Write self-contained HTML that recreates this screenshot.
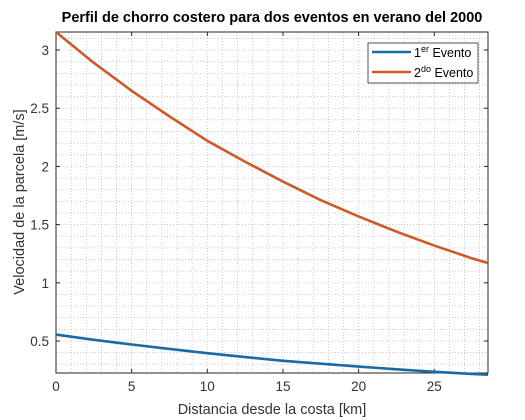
<!DOCTYPE html>
<html><head><meta charset="utf-8"><style>
html,body{margin:0;padding:0;background:#fff;}
svg{display:block;font-family:"Liberation Sans",Arial,sans-serif;}
</style></head><body>
<svg id="chart" width="525" height="420" viewBox="0 0 525 420">
<rect x="0" y="0" width="525" height="420" fill="#ffffff"/>
<g id="plot"></g>
</svg>
<script>
const xKm = [0, 2.5, 5, 7.5, 10, 12.5, 15, 17.5, 20, 22.5, 25, 27.5, 28.55];
const evento1 = [0.555, 0.51, 0.47, 0.432, 0.395, 0.362, 0.33, 0.305, 0.28, 0.257, 0.235, 0.217, 0.21];
const evento2 = [3.155, 2.89, 2.65, 2.43, 2.22, 2.04, 1.87, 1.71, 1.57, 1.44, 1.32, 1.21, 1.17];
const xTicks = [0, 5, 10, 15, 20, 25];
const yTicks = [0.5, 1, 1.5, 2, 2.5, 3];

const L=56,R=488,T=32,B=373;
const xMin=0,xMax=28.55,yMin=0.225,yMax=3.155;
const sx=v=>L+(v-xMin)/(xMax-xMin)*(R-L);
const sy=v=>B-(v-yMin)/(yMax-yMin)*(B-T);
const NS="http://www.w3.org/2000/svg";
const g=document.getElementById('plot');
function mk(tag,attrs,parent){const e=document.createElementNS(NS,tag);for(const k in attrs)e.setAttribute(k,attrs[k]);(parent||g).appendChild(e);return e;}

const grid=mk('g',{});


for(let v=1;v<xMax;v+=1){const x=sx(v);mk('line',{x1:x,x2:x,y1:T,y2:B,stroke:'#b8b8b8','stroke-width':0.7,'stroke-dasharray':'1,2'},grid);}
for(let v=0.3;v<yMax;v+=0.1){const y=sy(v);mk('line',{x1:L,x2:R,y1:y,y2:y,stroke:'#b8b8b8','stroke-width':0.7,'stroke-dasharray':'1,2'},grid);}

const ax=mk('rect',{x:L,y:T,width:R-L,height:B-T,fill:'none',stroke:'#262626','stroke-width':1});



xTicks.forEach(v=>{const x=sx(v);
 mk('line',{x1:x,x2:x,y1:B,y2:B-4,stroke:'#262626'});mk('line',{x1:x,x2:x,y1:T,y2:T+4,stroke:'#262626'});
 const t=mk('text',{x:x,y:B+18,'text-anchor':'middle','font-size':13.5,fill:'#333'});t.textContent=v;
 
 });
yTicks.forEach(v=>{const y=sy(v);
 mk('line',{x1:L,x2:L+4,y1:y,y2:y,stroke:'#262626'});mk('line',{x1:R,x2:R-4,y1:y,y2:y,stroke:'#262626'});
 const t=mk('text',{x:L-7,y:y+5,'text-anchor':'end','font-size':13.5,fill:'#333'});t.textContent=v;
 
 });

function series(vals,color,name){
 const d=xKm.map((x,i)=>(i?'L':'M')+sx(x).toFixed(2)+','+sy(vals[i]).toFixed(2)).join(' ');
 const p=mk('path',{d:d,fill:'none',stroke:color,'stroke-width':2.6,'stroke-linejoin':'round'});
 
 
}
series(evento1,'#1a6aa6','line-evento-1');
series(evento2,'#cf5a26','line-evento-2');

const tt=mk('text',{x:272,y:22,'text-anchor':'middle','font-size':14.5,'font-weight':'bold',fill:'#000'});
tt.textContent='Perfil de chorro costero para dos eventos en verano del 2000';


const xt=mk('text',{x:272,y:414,'text-anchor':'middle','font-size':14.5,fill:'#333'});
xt.textContent='Distancia desde la costa [km]';


const yt=mk('text',{x:0,y:0,'text-anchor':'middle','font-size':14.5,fill:'#333',transform:'translate(24,202) rotate(-90)'});
yt.textContent='Velocidad de la parcela [m/s]';



const lg=mk('g',{});


mk('rect',{x:368,y:43,width:110,height:40,fill:'#fff',stroke:'#262626','stroke-width':0.8},lg);
[['#1a6aa6','er',56],['#cf5a26','do',76]].forEach((e,i)=>{
 mk('line',{x1:372,x2:411,y1:e[2]-4,y2:e[2]-4,stroke:e[0],'stroke-width':2.6},lg);
 const t=mk('text',{x:414,y:e[2]+1,'font-size':12.5,fill:'#000'},lg);
 
 
 const a=mk('tspan',{},t);a.textContent=String(i+1);
 const b=mk('tspan',{dy:-5,'font-size':9},t);b.textContent=e[1];
 const c=mk('tspan',{dy:5},t);c.textContent=' Evento';
});
</script>
</body></html>
